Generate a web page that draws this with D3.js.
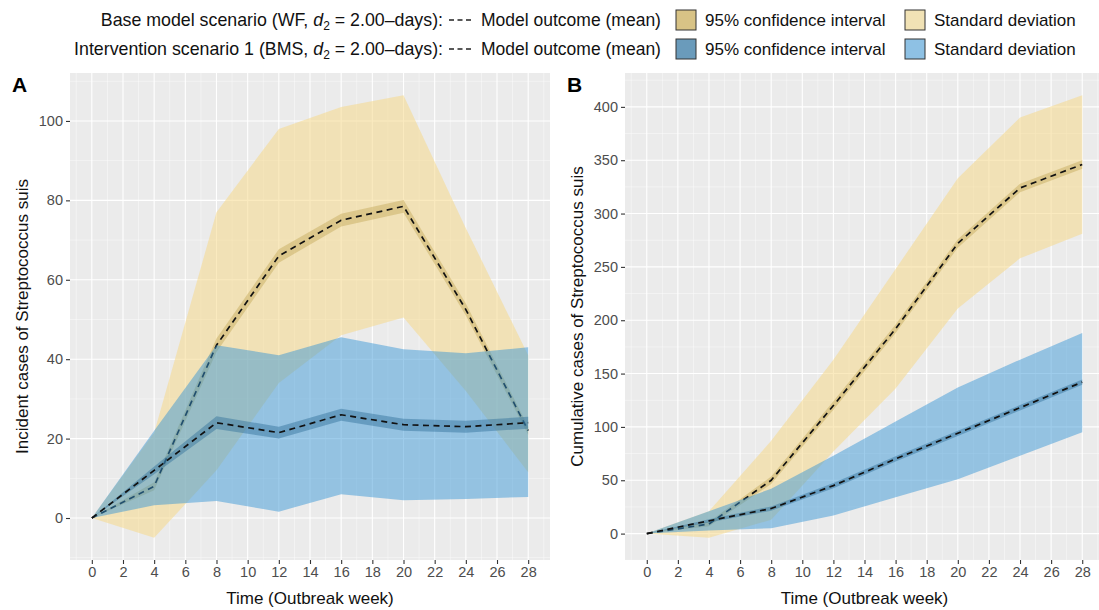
<!DOCTYPE html>
<html><head><meta charset="utf-8">
<script src="https://cdn.jsdelivr.net/npm/d3@7"></script>
<style>
body{margin:0;background:#fff}
text{font-family:"Liberation Sans",Arial,Helvetica,sans-serif}
</style>
</head><body>
<svg id="c" width="1099" height="610"></svg>
<script>
// ---------- data ----------
const weeks = [0, 4, 8, 12, 16, 20, 24, 28];
const xTickValues = [0, 2, 4, 6, 8, 10, 12, 14, 16, 18, 20, 22, 24, 26, 28];

// Panel A: incident cases
const incBaseMean = [0, 8, 43.5, 66, 75, 78.5, 52.5, 22];
const incBaseCILo = [0, 7, 41.8, 64.3, 73.4, 76.9, 51, 21];
const incBaseCIHi = [0, 9, 45.2, 67.7, 76.6, 80.1, 54, 23];
const incBaseSDLo = [0, -5, 12, 34, 46, 50.5, 32, 11.5];
const incBaseSDHi = [0, 21.5, 77, 98, 103.5, 106.5, 73, 41];
const incIntMean = [0, 12, 24, 21.5, 26, 23.5, 23, 24];
const incIntCILo = [0, 11, 22.4, 20, 24.5, 22, 21.5, 22.5];
const incIntCIHi = [0, 13, 25.6, 23, 27.5, 25, 24.5, 25.5];
const incIntSDLo = [0, 3.2, 4.3, 1.6, 6, 4.5, 4.8, 5.3];
const incIntSDHi = [0, 22, 43.5, 41, 45.5, 42.5, 41.5, 43];
const incYTicks = [0, 20, 40, 60, 80, 100];
const incYMinor = [-10, 10, 30, 50, 70, 90, 110];

// Panel B: cumulative cases
const cumBaseMean = [0, 9, 50, 120, 192, 272, 324, 346];
const cumBaseCILo = [0, 7, 46.5, 116, 188, 268, 320, 342];
const cumBaseCIHi = [0, 11, 53.5, 124, 196, 276, 328, 350];
const cumBaseSDLo = [0, -4, 13, 77, 136, 211, 258, 281];
const cumBaseSDHi = [0, 21, 87, 163, 248, 333, 390, 411];
const cumIntMean = [0, 12, 23.5, 45, 70, 94, 118, 142];
const cumIntCILo = [0, 10.5, 21.5, 42.5, 67.5, 91.5, 115.5, 139.5];
const cumIntCIHi = [0, 13.5, 25.5, 47.5, 72.5, 96.5, 120.5, 144.5];
const cumIntSDLo = [0, 3, 5, 17, 34, 51, 73, 95];
const cumIntSDHi = [0, 21, 42, 73, 105, 137, 163, 188];
const cumYTicks = [0, 50, 100, 150, 200, 250, 300, 350, 400];
const cumYMinor = [-25, 25, 75, 125, 175, 225, 275, 325, 375, 425];

const legendScenarios = ["Base model scenario (WF, ", "Intervention scenario 1 (BMS, "];
const legendItems = ["Model outcome (mean)", "95% confidence interval", "Standard deviation"];

// ---------- styles ----------
const baseSDFill = "#F5D98A", baseCIFill = "#C8AE60";
const intSDFill = "#3595D6", intCIFill = "#2F6F9A";
const sdAlpha = 0.55, ciAlpha = 0.5, intSDAlpha = 0.48, intCIAlpha = 0.45;

const svg = d3.select("#c");
svg.append("rect").attr("width", 1099).attr("height", 610).attr("fill", "#fff");

function expand(lo, hi, f = 0.05) { const r = hi - lo; return [lo - r * f, hi + r * f]; }

function drawPanel(o) {
  const x = d3.scaleLinear().domain(expand(0, 28)).range([o.left, o.right]);
  const all = [].concat(o.base.sdLo, o.base.sdHi, o.int.sdLo, o.int.sdHi);
  const y = d3.scaleLinear().domain(expand(d3.min(all), d3.max(all))).range([o.bottom, o.top]);
  const g = svg.append("g");
  const clipId = "clip" + o.letter;
  g.append("clipPath").attr("id", clipId).append("rect")
    .attr("x", o.left).attr("y", o.top).attr("width", o.right - o.left).attr("height", o.bottom - o.top);
  g.append("rect").attr("x", o.left).attr("y", o.top).attr("width", o.right - o.left)
    .attr("height", o.bottom - o.top).attr("fill", "#EBEBEB");
  const grid = g.append("g").attr("clip-path", `url(#${clipId})`);
  const xMinor = d3.range(-1, 30, 2);
  grid.selectAll(".xm").data(xMinor).join("line")
    .attr("x1", d => x(d)).attr("x2", d => x(d)).attr("y1", o.top).attr("y2", o.bottom)
    .attr("stroke", "#fff").attr("stroke-width", 0.55).attr("opacity", 0.8);
  grid.selectAll(".ym").data(o.yMinor).join("line")
    .attr("y1", d => y(d)).attr("y2", d => y(d)).attr("x1", o.left).attr("x2", o.right)
    .attr("stroke", "#fff").attr("stroke-width", 0.55).attr("opacity", 0.8);
  grid.selectAll(".xM").data(xTickValues).join("line")
    .attr("x1", d => x(d)).attr("x2", d => x(d)).attr("y1", o.top).attr("y2", o.bottom)
    .attr("stroke", "#fff").attr("stroke-width", 1.1);
  grid.selectAll(".yM").data(o.yTicks).join("line")
    .attr("y1", d => y(d)).attr("y2", d => y(d)).attr("x1", o.left).attr("x2", o.right)
    .attr("stroke", "#fff").attr("stroke-width", 1.1);

  const area = d3.area().x(d => x(d.w)).y0(d => y(d.lo)).y1(d => y(d.hi));
  const line = d3.line().x(d => x(d.w)).y(d => y(d.v));
  const layers = g.append("g").attr("clip-path", `url(#${clipId})`);
  [[o.base, baseSDFill, sdAlpha, baseCIFill, ciAlpha], [o.int, intSDFill, intSDAlpha, intCIFill, intCIAlpha]]
    .forEach(([s, sdF, sdA, ciF, ciA]) => {
      const sd = weeks.map((w, i) => ({ w, lo: s.sdLo[i], hi: s.sdHi[i] }));
      const ci = weeks.map((w, i) => ({ w, lo: s.ciLo[i], hi: s.ciHi[i] }));
      const mn = weeks.map((w, i) => ({ w, v: s.mean[i] }));
      layers.append("path").attr("d", area(sd)).attr("fill", sdF).attr("fill-opacity", sdA);
      layers.append("path").attr("d", area(ci)).attr("fill", ciF).attr("fill-opacity", ciA);
      layers.append("path").attr("d", line(mn)).attr("fill", "none").attr("stroke", "#111")
        .attr("stroke-width", 1.7).attr("stroke-dasharray", "6,4.5");
    });

  const ax = g.append("g").attr("transform", `translate(0,${o.bottom})`)
    .call(d3.axisBottom(x).tickValues(xTickValues).tickSize(4).tickPadding(3).tickFormat(d3.format("d")));
  const ay = g.append("g").attr("transform", `translate(${o.left},0)`)
    .call(d3.axisLeft(y).tickValues(o.yTicks).tickSize(4).tickPadding(3).tickFormat(d3.format("d")));
  [ax, ay].forEach(a => {
    a.attr("font-size", 14.5);
    a.select(".domain").remove();
    a.selectAll("line").attr("stroke", "#333").attr("stroke-width", 1.1);
    a.selectAll("text").attr("fill", "#4D4D4D");
  });

  g.append("text").attr("x", (o.left + o.right) / 2).attr("y", 604)
    .attr("text-anchor", "middle").attr("font-size", 17).attr("fill", "#111").text("Time (Outbreak week)");
  g.append("text").attr("transform", `translate(${o.yTitleX},${(o.top + o.bottom) / 2}) rotate(-90)`)
    .attr("text-anchor", "middle").attr("dy", "0.35em").attr("font-size", 17).attr("fill", "#111").text(o.yTitle);
  g.append("text").attr("x", o.letterX).attr("y", 92).attr("font-size", 21).attr("font-weight", "bold")
    .attr("fill", "#000").text(o.letter);
}

drawPanel({
  letter: "A", letterX: 12, left: 70, right: 550, top: 73, bottom: 560,
  yTicks: incYTicks, yMinor: incYMinor, yTitle: "Incident cases of Streptococcus suis", yTitleX: 22,
  base: { mean: incBaseMean, ciLo: incBaseCILo, ciHi: incBaseCIHi, sdLo: incBaseSDLo, sdHi: incBaseSDHi },
  int: { mean: incIntMean, ciLo: incIntCILo, ciHi: incIntCIHi, sdLo: incIntSDLo, sdHi: incIntSDHi }
});
drawPanel({
  letter: "B", letterX: 567, left: 625, right: 1104, top: 73, bottom: 560,
  yTicks: cumYTicks, yMinor: cumYMinor, yTitle: "Cumulative cases of Streptococcus suis", yTitleX: 577,
  base: { mean: cumBaseMean, ciLo: cumBaseCILo, ciHi: cumBaseCIHi, sdLo: cumBaseSDLo, sdHi: cumBaseSDHi },
  int: { mean: cumIntMean, ciLo: cumIntCILo, ciHi: cumIntCIHi, sdLo: cumIntSDLo, sdHi: cumIntSDHi }
});

// ---------- legend ----------
const legendRowsY = [20, 49];
const keyFills = [["#D8C386", "#F1E2B5"], ["#6A9BBB", "#8EC1E4"]];
const lg = svg.append("g").attr("font-size", 17).attr("fill", "#111");
legendScenarios.forEach((lab, r) => {
  const cy = legendRowsY[r];
  const t = lg.append("text").attr("x", 443).attr("y", cy).attr("dy", "0.35em").attr("text-anchor", "end")
    .attr("font-size", 17.8);
  t.append("tspan").text(lab);
  t.append("tspan").attr("font-style", "italic").text("d");
  t.append("tspan").attr("font-size", 12).attr("dy", 4).text("2");
  t.append("tspan").attr("dy", -4).text(" = 2.00\u2013days):");
  lg.append("line").attr("x1", 449).attr("x2", 472).attr("y1", cy).attr("y2", cy)
    .attr("stroke", "#222").attr("stroke-width", 1.3).attr("stroke-dasharray", "5,3.5");
  lg.append("text").attr("x", 481).attr("y", cy).attr("dy", "0.35em").attr("font-size", 17.5).text(legendItems[0]);
  lg.append("rect").attr("x", 676).attr("y", cy - 10).attr("width", 20).attr("height", 20)
    .attr("fill", keyFills[r][0]).attr("stroke", "#333").attr("stroke-width", 1);
  lg.append("text").attr("x", 705).attr("y", cy).attr("dy", "0.35em").text(legendItems[1]);
  lg.append("rect").attr("x", 905).attr("y", cy - 10).attr("width", 20).attr("height", 20)
    .attr("fill", keyFills[r][1]).attr("stroke", "#333").attr("stroke-width", 1);
  lg.append("text").attr("x", 934).attr("y", cy).attr("dy", "0.35em").text(legendItems[2]);
});
</script>
</body></html>
